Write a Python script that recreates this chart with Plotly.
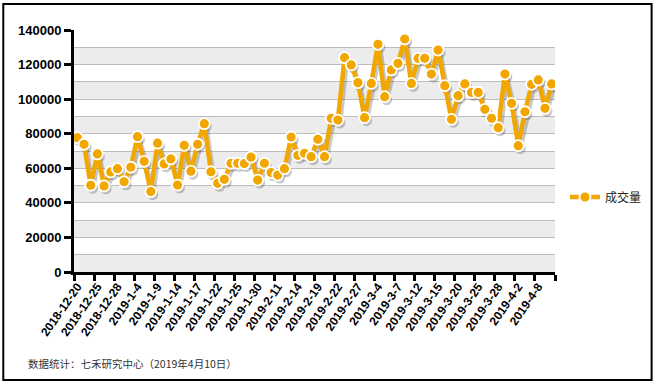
import plotly.graph_objects as go

DATES = [
    "2018-12-20", "2018-12-21", "2018-12-24", "2018-12-25", "2018-12-26", "2018-12-27",
    "2018-12-28", "2019-1-2", "2019-1-3", "2019-1-4", "2019-1-7", "2019-1-8",
    "2019-1-9", "2019-1-10", "2019-1-11", "2019-1-14", "2019-1-15", "2019-1-16",
    "2019-1-17", "2019-1-18", "2019-1-21", "2019-1-22", "2019-1-23", "2019-1-24",
    "2019-1-25", "2019-1-28", "2019-1-29", "2019-1-30", "2019-1-31", "2019-2-1",
    "2019-2-11", "2019-2-12", "2019-2-13", "2019-2-14", "2019-2-15", "2019-2-18",
    "2019-2-19", "2019-2-20", "2019-2-21", "2019-2-22", "2019-2-25", "2019-2-26",
    "2019-2-27", "2019-2-28", "2019-3-1", "2019-3-4", "2019-3-5", "2019-3-6",
    "2019-3-7", "2019-3-8", "2019-3-11", "2019-3-12", "2019-3-13", "2019-3-14",
    "2019-3-15", "2019-3-18", "2019-3-19", "2019-3-20", "2019-3-21", "2019-3-22",
    "2019-3-25", "2019-3-26", "2019-3-27", "2019-3-28", "2019-3-29", "2019-4-1",
    "2019-4-2", "2019-4-3", "2019-4-4", "2019-4-8", "2019-4-9", "2019-4-10",
]

VOLUME = [
    77700, 73900, 50200, 68300, 49800, 57900,
    59800, 52200, 60600, 78300, 64000, 46500,
    74500, 62500, 65400, 50300, 73300, 58300,
    73900, 85800, 58000, 51300, 53600, 62900,
    62900, 62700, 66400, 53200, 62900, 57500,
    56100, 59800, 78100, 67500, 68700, 66700,
    76800, 66700, 88900, 87900, 124000, 119800,
    109500, 89300, 109100, 131700, 101400, 116900,
    120700, 134800, 109100, 123600, 123600, 114500,
    128400, 107800, 88300, 102000, 108800, 103900,
    103900, 94100, 88900, 83500, 114500, 97600,
    73100, 92700, 108600, 111100, 94700, 108800,
]

SERIES_NAME = "成交量"
FOOTNOTE = "数据统计：七禾研究中心（2019年4月10日）"
Y_MAX = 140000

ORANGE = "#F2A600"
NUM_FONT = "Liberation Sans"
CJK_FONT = "Noto Sans CJK SC"

n = len(DATES)
x_range = [-0.5, n - 0.5]
unit_px = 483 / n              # pixels per category
val_px = Y_MAX / 242           # value per pixel
sx, sy = 2.0, 3.0              # shadow offset in px

fig = go.Figure()

# shadow
fig.add_trace(go.Scatter(
    x=DATES, y=VOLUME, mode="lines+markers", xaxis="x2", yaxis="y2",
    line=dict(color="rgba(60,60,60,0.28)", width=5),
    marker=dict(size=11, color="rgba(60,60,60,0.28)"),
    showlegend=False, hoverinfo="skip",
))
# main series
fig.add_trace(go.Scatter(
    x=DATES, y=VOLUME, mode="lines+markers", name=SERIES_NAME,
    xaxis="x3", yaxis="y3",
    line=dict(color=ORANGE, width=4.5),
    marker=dict(size=11, color=ORANGE, line=dict(color="white", width=1.8)),
))

# alternating bands
shapes = []
for k in range(0, Y_MAX // 20000):
    shapes.append(dict(type="rect", xref="paper", yref="y", x0=0, x1=1,
                       y0=k * 20000, y1=k * 20000 + 10000,
                       fillcolor="#ececec", line=dict(width=0), layer="below"))
# outer frame
shapes.append(dict(type="rect", xref="paper", yref="paper",
                   x0=(3 - 74) / 483, x1=(654 - 74) / 483,
                   y0=(272 - 380) / 242, y1=(272 - 4) / 242,
                   line=dict(color="black", width=2), fillcolor="rgba(0,0,0,0)"))

fig.update_layout(
    width=659, height=385,
    margin=dict(l=74, r=102, t=30, b=113),
    paper_bgcolor="white", plot_bgcolor="rgba(0,0,0,0)",
    shapes=shapes,
    xaxis=dict(
        type="category", categoryarray=DATES, range=x_range,
        tickmode="linear", tick0=0, dtick=3, tickson="boundaries",
        ticks="outside", ticklen=6, tickwidth=2.5, tickcolor="black",
        showline=True, linecolor="black", linewidth=3,
        showgrid=False, zeroline=False,
        tickangle=-55,
        tickfont=dict(family=NUM_FONT, size=12, color="black", weight="bold"),
    ),
    yaxis=dict(
        range=[0, Y_MAX], tickmode="linear", tick0=0, dtick=20000,
        ticks="outside", ticklen=7, tickwidth=2.5, tickcolor="black",
        showline=True, linecolor="black", linewidth=3,
        showgrid=True, gridcolor="#bdbdbd", gridwidth=1,
        minor=dict(dtick=10000, showgrid=True, gridcolor="#bdbdbd", gridwidth=1),
        zeroline=False, tickformat="d",
        tickfont=dict(family=NUM_FONT, size=13, color="black", weight="bold"),
    ),
    xaxis2=dict(type="category", categoryarray=DATES, overlaying="x",
                range=[x_range[0] - sx / unit_px, x_range[1] - sx / unit_px],
                visible=False),
    yaxis2=dict(overlaying="y", range=[sy * val_px, Y_MAX + sy * val_px], visible=False),
    xaxis3=dict(type="category", categoryarray=DATES, overlaying="x",
                range=x_range, visible=False),
    yaxis3=dict(overlaying="y", range=[0, Y_MAX], visible=False),
    legend=dict(x=(567 - 74) / 483, y=(272 - 197) / 242, xanchor="left", yanchor="middle",
                font=dict(family=CJK_FONT, size=12, color="#222"),
                bgcolor="rgba(0,0,0,0)", borderwidth=0),
    annotations=[dict(
        text=FOOTNOTE, xref="paper", yref="paper",
        x=(26 - 74) / 483, y=(272 - 363) / 242, xanchor="left", yanchor="middle",
        showarrow=False, font=dict(family=CJK_FONT, size=10.5, color="#333"),
    )],
)

fig.write_html("out.html", config={"displayModeBar": False},
               post_script="document.body.style.margin='0';")
